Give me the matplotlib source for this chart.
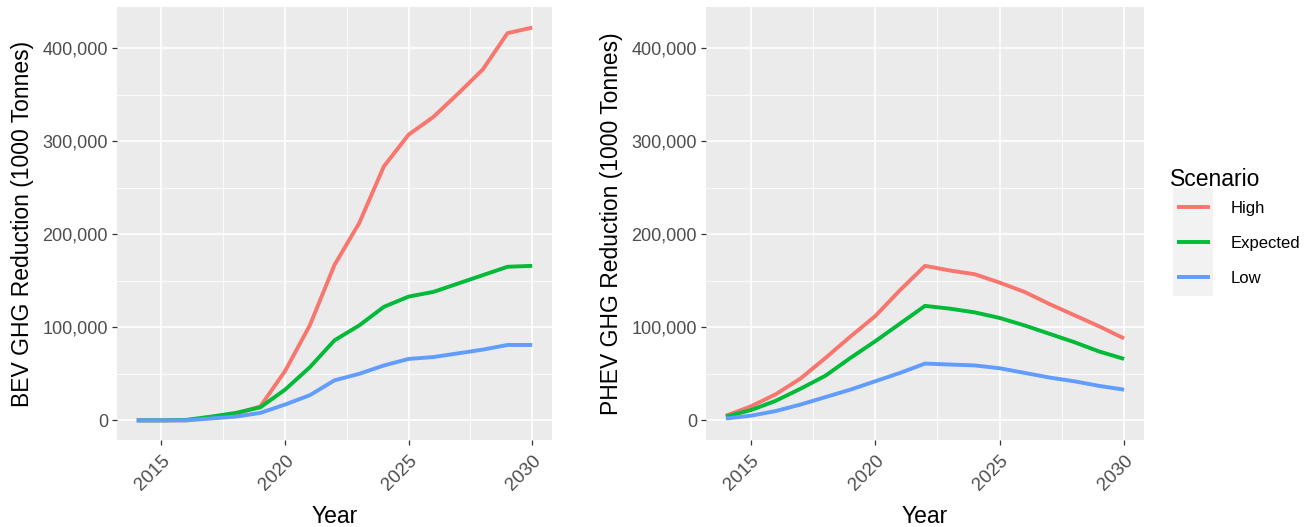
import matplotlib
matplotlib.use("Agg")
import matplotlib.pyplot as plt
from matplotlib.ticker import FuncFormatter, MultipleLocator
from matplotlib.patches import Rectangle

years = list(range(2014, 2031))
scenarios = ["High", "Expected", "Low"]
colors = ["#F8766D", "#00BA38", "#619CFF"]

bev_high = [0, 0, 0, 3000, 7000, 15000, 53000, 102000, 167000, 212000, 273000, 307000, 326000, 351000, 377000, 416000, 422000]
bev_expected = [0, 0, 500, 4000, 8000, 14000, 33000, 57000, 86000, 102000, 122000, 133000, 138000, 147000, 156000, 165000, 166000]
bev_low = [0, 0, 0, 2000, 4000, 8000, 17000, 27000, 43000, 50000, 59000, 66000, 68000, 72000, 76000, 81000, 81000]

phev_high = [5000, 15000, 28000, 45000, 67000, 90000, 112000, 140000, 166000, 161000, 157000, 148000, 138000, 125000, 113000, 101000, 88000]
phev_expected = [4000, 11000, 21000, 34000, 48000, 67000, 85000, 104000, 123000, 120000, 116000, 110000, 102000, 93000, 84000, 74000, 66000]
phev_low = [2000, 5000, 10000, 17000, 25000, 33000, 42000, 51000, 61000, 60000, 59000, 56000, 51000, 46000, 42000, 37000, 33000]

xticks = [2015, 2020, 2025, 2030]
yticks = [0, 100000, 200000, 300000, 400000]

plt.rcParams['font.family'] = ['Liberation Sans', 'DejaVu Sans']

W, H = 1312, 527
fig = plt.figure(figsize=(W / 100, H / 100), dpi=100)

def add_ax(x0, x1, y0, y1):
    return fig.add_axes([x0 / W, 1 - y1 / H, (x1 - x0) / W, (y1 - y0) / H])

ax1 = add_ax(117, 552, 7, 440)
ax2 = add_ax(706, 1144, 7, 440)

fmt = FuncFormatter(lambda v, p: f"{int(v):,}")
handles = []
for ax, series, ylabel in [
    (ax1, [bev_high, bev_expected, bev_low], "BEV GHG Reduction (1000 Tonnes)"),
    (ax2, [phev_high, phev_expected, phev_low], "PHEV GHG Reduction (1000 Tonnes)"),
]:
    ax.set_facecolor("#EBEBEB")
    for s in ax.spines.values():
        s.set_visible(False)
    hs = []
    for name, vals, c in zip(scenarios, series, colors):
        (ln,) = ax.plot(years, vals, color=c, lw=2.8, label=name, solid_capstyle="butt", zorder=3)
        hs.append(ln)
    handles = hs
    ax.set_xlim(2013.2, 2030.8)
    ax.set_ylim(-21100, 444100)
    ax.set_xticks(xticks)
    ax.set_yticks(yticks)
    ax.xaxis.set_minor_locator(MultipleLocator(2.5))
    ax.yaxis.set_minor_locator(MultipleLocator(50000))
    ax.yaxis.set_major_formatter(fmt)
    ax.grid(which="major", color="white", lw=1.2, zorder=0)
    ax.grid(which="minor", color="white", lw=0.6, zorder=0)
    ax.set_axisbelow(True)
    ax.tick_params(which="major", length=3.5, width=0.9, color="#333333",
                   labelcolor="#4D4D4D", labelsize=13, pad=3)
    ax.tick_params(axis="x", which="major", labelsize=13.5, pad=5)
    ax.tick_params(which="minor", length=0)
    for lab in ax.get_xticklabels():
        lab.set_rotation(45)
        lab.set_ha("right")
        lab.set_va("top")
        lab.set_rotation_mode("anchor")
    ax.set_xlabel("Year", fontsize=16.5, color="black", labelpad=8)
    ax.set_ylabel(ylabel, fontsize=16.5, color="black", labelpad=6)

# legend
fig.patches.append(Rectangle((1173 / W, 1 - 296 / H), 40 / W, 108 / H,
                             transform=fig.transFigure, facecolor="#F2F2F2",
                             edgecolor="none", zorder=0))
fig.text(1170 / W, 1 - 180 / H, "Scenario", fontsize=16.5, ha="left", va="center")
leg = fig.legend(handles=handles, labels=scenarios,
                 loc="center left", bbox_to_anchor=(1162 / W, 1 - 243 / H),
                 frameon=False, fontsize=12,
                 handlelength=2.0, handletextpad=1.2, labelspacing=1.2)

fig.savefig("out.png", dpi=100, facecolor="white")
